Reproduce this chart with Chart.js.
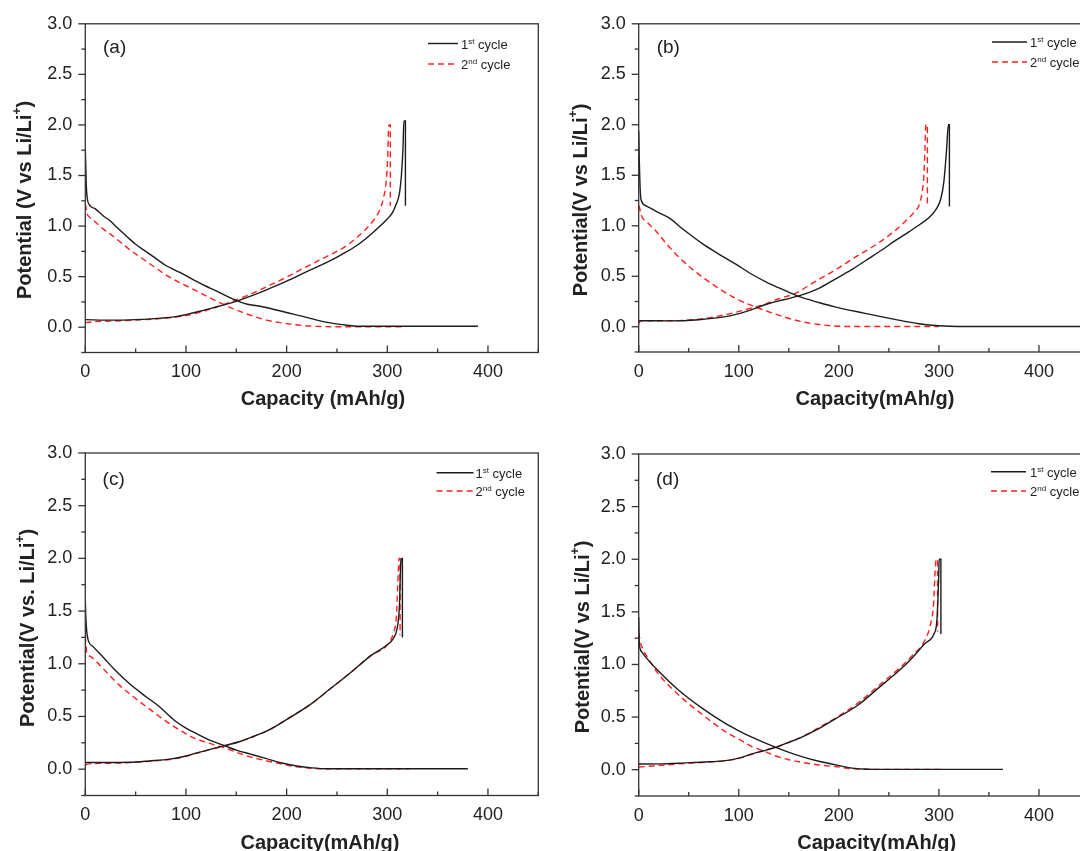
<!DOCTYPE html>
<html>
<head>
<meta charset="utf-8">
<script src="https://cdn.jsdelivr.net/npm/chart.js@4.4.1/dist/chart.umd.min.js"></script>
<style>
html, body { margin: 0; padding: 0; background: #fff; overflow: hidden; width: 1080px; height: 851px; }
canvas { position: absolute; }
</style>
</head>
<body>
<canvas id="chartA" width="548" height="428" style="left:0px;top:0px"></canvas>
<canvas id="chartB" width="545" height="428" style="left:553px;top:0px"></canvas>
<canvas id="chartC" width="548" height="440" style="left:0px;top:428px"></canvas>
<canvas id="chartD" width="545" height="440" style="left:553px;top:428px"></canvas>
<script>
// Galvanostatic charge/discharge profiles, [capacity mAh/g, potential V]
const aCycle1Discharge = [[0,1.77],[1,1.4],[2,1.27],[4,1.21],[10,1.17],[18,1.1],[25,1.05],[30,1.0],[42,0.89],[50,0.82],[60,0.75],[70,0.68],[80,0.61],[90,0.56],[100,0.51],[110,0.455],[120,0.405],[130,0.36],[140,0.31],[150,0.265],[160,0.23],[175,0.205],[190,0.17],[200,0.145],[215,0.11],[230,0.07],[245,0.04],[260,0.02],[270,0.01],[300,0.01],[350,0.01],[390,0.01]];
const aCycle1Charge = [[0,0.075],[25,0.07],[50,0.075],[75,0.09],[90,0.105],[100,0.125],[115,0.16],[130,0.2],[150,0.255],[165,0.31],[180,0.37],[200,0.455],[220,0.55],[240,0.64],[255,0.72],[270,0.81],[285,0.93],[298,1.05],[305,1.13],[309,1.22],[312,1.32],[314,1.5],[315.5,1.75],[316.5,2.04],[318,2.04],[318,1.2]];
const aCycle2Discharge = [[0,1.22],[2,1.12],[5,1.08],[10,1.04],[18,0.97],[25,0.92],[35,0.84],[45,0.76],[55,0.69],[65,0.62],[78,0.53],[90,0.46],[100,0.41],[112,0.35],[124,0.29],[135,0.235],[150,0.17],[165,0.115],[180,0.07],[200,0.036],[215,0.018],[230,0.008],[250,0.005],[315,0.005]];
const aCycle2Charge = [[0,0.045],[10,0.055],[25,0.06],[50,0.07],[75,0.085],[90,0.1],[100,0.115],[115,0.15],[130,0.2],[150,0.27],[165,0.33],[180,0.4],[200,0.495],[220,0.6],[240,0.7],[257,0.79],[270,0.89],[285,1.04],[292,1.15],[296,1.27],[299,1.45],[300.5,1.7],[301.5,2.0],[303,2.0],[303,1.2]];

const bCycle1Discharge = [[0,1.94],[0.6,1.64],[1.3,1.4],[2.3,1.26],[7,1.2],[18,1.14],[30,1.08],[45,0.96],[64,0.82],[80,0.72],[97,0.62],[113,0.52],[130,0.43],[146,0.36],[161.5,0.295],[180,0.24],[196,0.197],[225,0.135],[256,0.073],[280,0.03],[300,0.01],[320,0.003],[450,0.003]];
const bCycle1Charge = [[0,0.06],[10,0.06],[30,0.058],[60,0.07],[87,0.1],[107,0.15],[130,0.23],[146,0.27],[161.5,0.31],[180,0.38],[196,0.47],[212,0.56],[229,0.67],[243,0.76],[256,0.85],[270,0.94],[282,1.02],[290,1.08],[297,1.16],[302,1.27],[305,1.44],[307.5,1.73],[309.5,2.0],[310.5,2.0],[310.5,1.19]];
const bCycle2Discharge = [[0,1.2],[0.6,1.19],[2.3,1.11],[8,1.04],[17,0.95],[27,0.83],[37,0.72],[50,0.6],[64,0.49],[80,0.38],[97,0.28],[113,0.21],[130,0.148],[146,0.095],[163,0.05],[180,0.022],[196,0.007],[215,0.002],[300,0.002]];
const bCycle2Charge = [[0,0.03],[2,0.06],[30,0.06],[60,0.075],[87,0.12],[107,0.17],[125,0.22],[141,0.28],[156.5,0.33],[175,0.44],[196,0.56],[215,0.68],[235,0.8],[256,0.95],[266,1.04],[275,1.13],[280,1.2],[283,1.32],[285,1.5],[286,1.75],[287,2.0],[288.5,2.0],[288.5,1.2]];

const cCycle1Discharge = [[0,1.6],[0.5,1.45],[1.5,1.3],[3,1.22],[8,1.16],[18,1.06],[28,0.955],[44,0.81],[60,0.69],[74,0.59],[89,0.46],[100,0.39],[112,0.33],[125,0.27],[139,0.22],[150,0.18],[164,0.143],[180,0.1],[193,0.063],[210,0.03],[225,0.012],[240,0.004],[300,0.004],[380,0.004]];
const cCycle1Charge = [[0,0.063],[20,0.063],[44,0.065],[64,0.078],[84,0.095],[98,0.12],[111,0.155],[125,0.19],[139,0.225],[153,0.26],[167,0.31],[180,0.36],[193,0.43],[205,0.5],[223,0.61],[243,0.76],[264,0.92],[284,1.08],[300,1.18],[306,1.24],[310,1.35],[312,1.54],[313.5,1.98],[314.5,2.0],[315,2.0],[315,1.25]];
const cCycle2Discharge = [[0,1.26],[1.4,1.11],[5,1.07],[14.6,0.985],[34,0.795],[50,0.67],[61,0.59],[84,0.43],[107,0.3],[122,0.25],[137,0.206],[160,0.127],[175,0.09],[193,0.053],[210,0.022],[225,0.008],[240,0.003],[322,0.003]];
const cCycle2Charge = [[0,0.04],[3,0.05],[20,0.055],[44,0.062],[64,0.075],[84,0.092],[98,0.118],[111,0.152],[125,0.188],[139,0.222],[153,0.26],[167,0.31],[180,0.36],[193,0.43],[205,0.5],[223,0.61],[243,0.76],[264,0.92],[284,1.08],[300,1.18],[306,1.29],[309,1.45],[311,1.89],[311.6,2.0],[312.7,2.0],[312.7,1.27]];

const dCycle1Discharge = [[0,1.45],[0.3,1.3],[0.6,1.2],[3,1.12],[7,1.07],[20.5,0.93],[40,0.755],[64,0.58],[87,0.437],[100,0.37],[113,0.31],[137,0.213],[163,0.124],[180,0.08],[196,0.048],[210,0.02],[225,0.006],[235,0.003],[364,0.003]];
const dCycle1Charge = [[0,0.054],[20,0.055],[47,0.065],[70,0.075],[87,0.086],[100,0.11],[113,0.15],[125,0.18],[137,0.213],[150,0.26],[163,0.31],[180,0.39],[196,0.48],[220,0.62],[240,0.78],[260,0.94],[273,1.06],[286,1.2],[295,1.29],[298,1.42],[299.7,1.8],[300.3,2.0],[302,2.0],[302,1.29]];
const dCycle2Discharge = [[0,1.3],[1.5,1.22],[4,1.15],[10,1.05],[20.5,0.9],[40,0.71],[64,0.52],[87,0.36],[100,0.29],[113,0.22],[127,0.17],[137,0.13],[150,0.095],[163,0.07],[180,0.045],[196,0.03],[213,0.01],[230,0.003],[305,0.003]];
const dCycle2Charge = [[0,0.025],[20,0.04],[47,0.06],[70,0.072],[87,0.085],[100,0.108],[113,0.145],[127,0.19],[137,0.213],[150,0.26],[163,0.31],[180,0.4],[200,0.51],[220,0.64],[240,0.8],[260,0.96],[273,1.08],[286,1.23],[291,1.36],[294.7,1.58],[296.3,1.9],[297.3,2.0],[298.7,2.0],[298.7,1.31]];

const xTicksMajor = [0, 100, 200, 300, 400];
const yTicksMajor = [0, 0.5, 1.0, 1.5, 2.0, 2.5, 3.0];
const legendLabels = [['1', 'st', ' cycle'], ['2', 'nd', ' cycle']];

const FONT = '"Liberation Sans", Arial, sans-serif';
const INK = '#222';
const BLACK_LINE = '#1c1c1c';
const RED_LINE = '#ff1f1f';

function toPoints(discharge, charge) {
    const pts = discharge.map(([x, y]) => ({ x, y }));
    pts.push({ x: charge[0][0], y: null });
    charge.forEach(([x, y]) => pts.push({ x, y }));
    return pts;
}

// draw a run of text pieces where some are raised superscripts
function drawPieces(ctx, pieces, x, y, align) {
    let total = 0;
    pieces.forEach(p => { ctx.font = p.font; total += ctx.measureText(p.t).width; });
    let cx = align === 'center' ? x - total / 2 : x;
    ctx.textBaseline = 'alphabetic';
    ctx.textAlign = 'left';
    pieces.forEach(p => {
        ctx.font = p.font;
        ctx.fillText(p.t, cx, y - (p.rise || 0));
        cx += ctx.measureText(p.t).width;
    });
}

function decorPlugin(cfg) {
    const ox = cfg.canvas.left, oy = cfg.canvas.top;
    return {
        id: 'panelDecor',
        afterDraw(chart) {
            const ctx = chart.ctx;
            const area = chart.chartArea;
            const xs = chart.scales.x, ys = chart.scales.y;
            ctx.save();

            // frame
            ctx.strokeStyle = '#333';
            ctx.lineWidth = 1.3;
            ctx.strokeRect(area.left, area.top, area.right - area.left, area.bottom - area.top);

            // y ticks point outward, x ticks point into the plot
            ys.ticks.forEach(t => {
                const py = ys.getPixelForValue(t.value);
                const major = yTicksMajor.some(v => Math.abs(v - t.value) < 1e-6);
                ctx.beginPath();
                ctx.moveTo(area.left, py);
                ctx.lineTo(area.left - (major ? 7 : 4), py);
                ctx.stroke();
            });
            xs.ticks.forEach(t => {
                const px = xs.getPixelForValue(t.value);
                const major = xTicksMajor.includes(t.value);
                ctx.beginPath();
                ctx.moveTo(px, area.bottom);
                ctx.lineTo(px, area.bottom - (major ? 7 : 4));
                ctx.stroke();
            });

            ctx.fillStyle = INK;

            // panel letter
            ctx.font = '19px ' + FONT;
            ctx.textAlign = 'left';
            ctx.textBaseline = 'middle';
            ctx.fillText(cfg.letter, cfg.labelPos[0] - ox, cfg.labelPos[1] - oy);

            // legend
            const lg = cfg.legend;
            chart.data.datasets.forEach((ds, i) => {
                const ly = (i === 0 ? lg.y1 : lg.y2) - oy;
                ctx.strokeStyle = ds.borderColor;
                ctx.lineWidth = 1.4;
                ctx.setLineDash(ds.borderDash || []);
                ctx.beginPath();
                ctx.moveTo(lg.x1 - ox, ly);
                ctx.lineTo(lg.x2 - ox, ly);
                ctx.stroke();
                ctx.setLineDash([]);
                const [num, sup, rest] = legendLabels[i];
                drawPieces(ctx, [
                    { t: num, font: '13px ' + FONT },
                    { t: sup, font: '8px ' + FONT, rise: 5 },
                    { t: rest, font: '13px ' + FONT }
                ], lg.tx - ox, ly + 5, 'left');
            });

            // axis titles
            ctx.fillStyle = INK;
            drawPieces(ctx, [{ t: cfg.xTitle, font: 'bold 20px ' + FONT }],
                cfg.xTitlePos[0] - ox, cfg.xTitlePos[1] - oy + 7, 'center');

            ctx.translate(cfg.yTitlePos[0] - ox + 7, cfg.yTitlePos[1] - oy);
            ctx.rotate(-Math.PI / 2);
            drawPieces(ctx, [
                { t: cfg.yTitle, font: 'bold 20px ' + FONT },
                { t: '+', font: 'bold 12px ' + FONT, rise: 10 },
                { t: ')', font: 'bold 20px ' + FONT }
            ], 0, 0, 'center');

            ctx.restore();
        }
    };
}

function makePanel(id, cfg, cycle1, cycle2) {
    const c = cfg.canvas, a = cfg.area;
    new Chart(document.getElementById(id), {
        type: 'scatter',
        data: {
            datasets: [
                {
                    label: '1st cycle',
                    data: toPoints(cycle1[0], cycle1[1]),
                    borderColor: BLACK_LINE,
                    borderWidth: 1.4
                },
                {
                    label: '2nd cycle',
                    data: toPoints(cycle2[0], cycle2[1]),
                    borderColor: RED_LINE,
                    borderWidth: 1.4,
                    borderDash: [6, 4]
                }
            ]
        },
        options: {
            responsive: false,
            animation: false,
            showLine: true,
            spanGaps: false,
            elements: {
                point: { radius: 0, hoverRadius: 0 },
                line: { cubicInterpolationMode: 'monotone', fill: false }
            },
            layout: {
                padding: { top: a.t - c.top, right: c.left + c.width - a.r, left: 0, bottom: 0 }
            },
            plugins: {
                legend: { display: false },
                tooltip: { enabled: false }
            },
            scales: {
                x: {
                    type: 'linear',
                    min: 0,
                    max: 450,
                    afterFit: s => { s.height = c.top + c.height - a.b; },
                    grid: { display: false, drawTicks: false },
                    border: { display: false },
                    ticks: {
                        stepSize: 50,
                        padding: 9,
                        color: INK,
                        font: { family: FONT, size: 18 },
                        maxRotation: 0,
                        autoSkip: false,
                        callback: v => xTicksMajor.includes(v) ? String(v) : ''
                    }
                },
                y: {
                    type: 'linear',
                    min: -0.25,
                    max: 3.0,
                    afterFit: s => { s.width = a.l - c.left; },
                    grid: { display: false, drawTicks: false },
                    border: { display: false },
                    ticks: {
                        stepSize: 0.25,
                        padding: 13,
                        color: INK,
                        font: { family: FONT, size: 18 },
                        autoSkip: false,
                        callback: v => yTicksMajor.some(m => Math.abs(m - v) < 1e-6) ? v.toFixed(1) : ''
                    }
                }
            }
        },
        plugins: [decorPlugin(cfg)]
    });
}

makePanel('chartA', {
    canvas: { left: 0, top: 0, width: 548, height: 428 },
    area: { l: 85.3, t: 21.5, r: 538.3, b: 352.5 },
    letter: '(a)', labelPos: [103, 48],
    legend: { x1: 428, x2: 458, y1: 43.5, y2: 64, tx: 461 },
    xTitle: 'Capacity (mAh/g)', xTitlePos: [323, 398],
    yTitle: 'Potential (V vs Li/Li', yTitlePos: [23.5, 200]
}, [aCycle1Discharge, aCycle1Charge], [aCycle2Discharge, aCycle2Charge]);

makePanel('chartB', {
    canvas: { left: 553, top: 0, width: 545, height: 428 },
    area: { l: 638.7, t: 21, r: 1091, b: 352 },
    letter: '(b)', labelPos: [656.7, 48],
    legend: { x1: 992, x2: 1027, y1: 42, y2: 62, tx: 1030 },
    xTitle: 'Capacity(mAh/g)', xTitlePos: [875, 398],
    yTitle: 'Potential(V vs Li/Li', yTitlePos: [580, 200]
}, [bCycle1Discharge, bCycle1Charge], [bCycle2Discharge, bCycle2Charge]);

makePanel('chartC', {
    canvas: { left: 0, top: 428, width: 548, height: 440 },
    area: { l: 85.3, t: 453, r: 538.3, b: 795.5 },
    letter: '(c)', labelPos: [102.6, 479.3],
    legend: { x1: 436.6, x2: 473.5, y1: 472.7, y2: 491, tx: 475.5 },
    xTitle: 'Capacity(mAh/g)', xTitlePos: [320, 841.7],
    yTitle: 'Potential(V vs. Li/Li', yTitlePos: [27, 628]
}, [cCycle1Discharge, cCycle1Charge], [cCycle2Discharge, cCycle2Charge]);

makePanel('chartD', {
    canvas: { left: 553, top: 428, width: 545, height: 440 },
    area: { l: 638.7, t: 454, r: 1091, b: 796 },
    letter: '(d)', labelPos: [656, 479.3],
    legend: { x1: 991, x2: 1026, y1: 471.7, y2: 491, tx: 1030 },
    xTitle: 'Capacity(mAh/g)', xTitlePos: [876.7, 841.7],
    yTitle: 'Potential(V vs Li/Li', yTitlePos: [581.7, 637]
}, [dCycle1Discharge, dCycle1Charge], [dCycle2Discharge, dCycle2Charge]);
</script>
</body>
</html>
